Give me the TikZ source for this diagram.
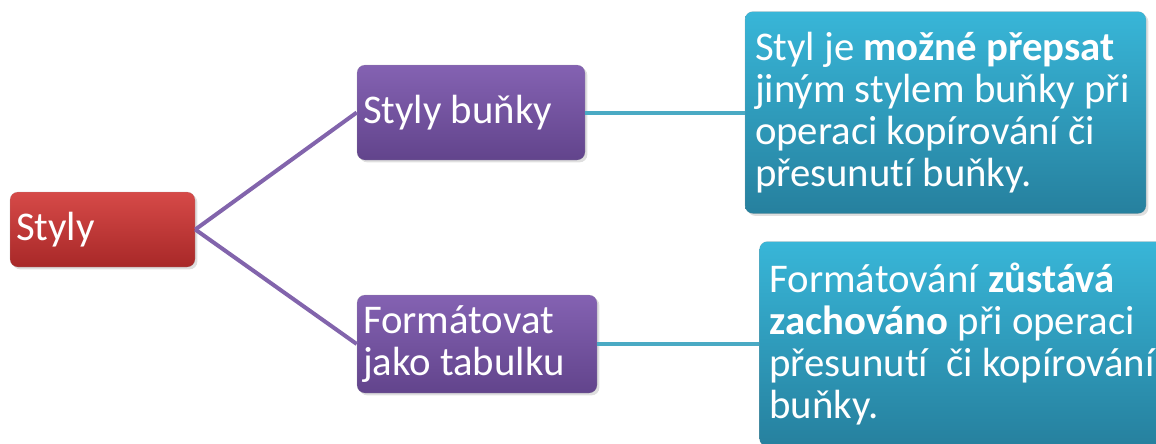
\documentclass[tikz,border=0pt]{standalone}
\usepackage{fontspec}
\setmainfont{Carlito}[Ligatures=NoCommon]
\usepackage{xcolor}
\usepackage{tikz}
\usetikzlibrary{positioning,shadows}
\definecolor{redtop}{RGB}{214,74,72}
\definecolor{redbot}{RGB}{168,40,40}
\definecolor{purptop}{RGB}{132,98,178}
\definecolor{purpbot}{RGB}{98,68,140}
\definecolor{cyantop}{RGB}{56,182,216}
\definecolor{cyanbot}{RGB}{38,128,158}
\definecolor{purpline}{RGB}{130,100,172}
\definecolor{cyanline}{RGB}{74,170,196}

\begin{document}
\begin{tikzpicture}[
 every node/.style={font=\fontsize{29}{30}\selectfont,text=white},
 card/.style={rounded corners=0.2cm,draw=white!60!black,draw opacity=0.25,align=flush left,
  inner xsep=0.15cm,inner ysep=0pt,
  drop shadow={opacity=0.25,shadow xshift=0.06cm,shadow yshift=-0.06cm}},
 redcard/.style={card,top color=redtop,bottom color=redbot},
 purpcard/.style={card,top color=purptop,bottom color=purpbot},
 cyancard/.style={card,top color=cyantop,bottom color=cyanbot,inner xsep=0.25cm},
 purplink/.style={line width=0.1cm,purpline},
 cyanlink/.style={line width=0.1cm,cyanline}
]
\useasboundingbox (0,0) rectangle (28.9,-11.075);
\node[redcard,minimum width=4.625cm,minimum height=1.875cm,text width=4.325cm] (styly) at (2.5625,-5.7375) {Styly};
\node[purpcard,minimum width=5.7cm,minimum height=2.375cm,text width=5.4cm] (bunky) at (11.775,-2.8125) {Styly buňky};
\node[purpcard,minimum width=6cm,minimum height=2.45cm,text width=5.7cm] (tabulka) at (11.925,-8.6) {Formátovat\\jako tabulku};
\node[cyancard,minimum width=10.025cm,minimum height=5.05cm,text width=9.525cm] (prepis) at (23.6375,-2.8125)
 {Styl je \textbf{možné přepsat}\\jiným stylem buňky při\\operaci kopírování či\\přesunutí buňky.};
\node[cyancard,minimum width=10.125cm,minimum height=5.125cm,text width=9.625cm] (zachovani) at (24.05,-8.6)
 {Formátování \textbf{zůstává}\\\textbf{zachováno} při operaci\\přesunutí\ \ či kopírování\\buňky.};
\draw[purplink] (styly.east)--(bunky.west);
\draw[purplink] (styly.east)--(tabulka.west);
\draw[cyanlink] (bunky.east)--(prepis.west);
\draw[cyanlink] (tabulka.east)--(zachovani.west);
\end{tikzpicture}
\end{document}
